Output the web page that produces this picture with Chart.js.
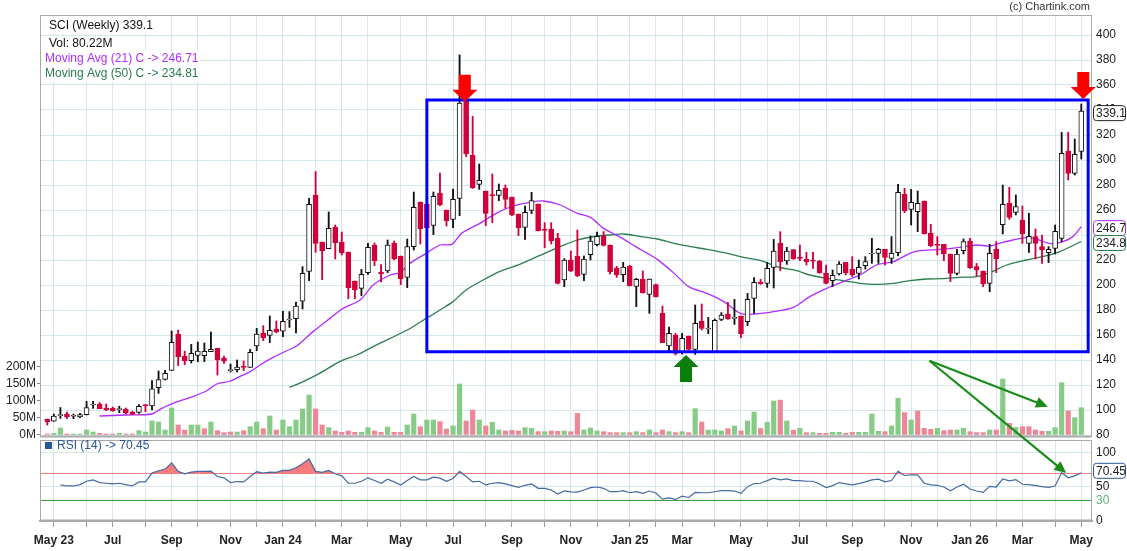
<!DOCTYPE html>
<html>
<head>
<meta charset="utf-8">
<title>SCI (Weekly)</title>
<script src="https://cdn.jsdelivr.net/npm/chart.js@4.4.1/dist/chart.umd.min.js"></script>
<style>
  html, body { margin: 0; padding: 0; background: #fff; }
  #wrap { position: relative; width: 1127px; height: 551px; }
  #wrap canvas { position: absolute; left: 0; top: 0; }
</style>
</head>
<body>
<div id="wrap">
  <canvas id="rsiChart" width="1127" height="551"></canvas>
  <canvas id="priceChart" width="1127" height="551"></canvas>
</div>
<script>
// Weekly candles, one per week (index 0 = last week of Apr 2023)
const opens = [
  92.5, 91, 95.5, 96.8, 95, 94.4, 96.3, 104, 104.5, 101.6,
  101.3, 100.3, 100.8, 98.4, 98.1, 104, 103.2, 117.9, 124.5, 131.7,
  160.8, 143.2, 139.5, 143.7, 143.5, 146.7, 149.3, 141.6, 131.5, 132.3,
  134.7, 134.1, 151.2, 161.6, 159.7, 164.8, 163, 172, 173, 187,
  210.9, 272, 234.4, 229, 246.4, 234.4, 226.4, 203.2, 197.3, 209.9,
  232, 210.4, 211.2, 233.6, 223.2, 206.1, 230.7, 266.4, 264.8, 247.7,
  273.6, 260, 252.5, 269.3, 348, 303.7, 280.5, 275.2, 272, 271.7,
  277.3, 270.4, 256.8, 246.1, 259.7, 264.8, 244.8, 244.5, 237.3, 204,
  220, 222.9, 208.5, 224.3, 232.3, 239.2, 232, 213.6, 208.3, 215.2,
  198.9, 204.8, 192.5, 200.3, 177.3, 151.2, 160, 146.1, 159.2, 148.5,
  171.2, 164.8, 146.7, 172.5, 176.8, 173.3, 175.2, 170.7, 189.3, 202.1,
  201.3, 214.1, 233.3, 219.2, 228.3, 222.4, 220.5, 219.5, 219.2, 209.3,
  203.5, 208.8, 218.1, 212.5, 209.3, 215.5, 224.8, 225.3, 228.5, 221.3,
  225.9, 272.8, 260.5, 258.7, 267.2, 241.3, 232.3, 232.5, 224.8, 209.3,
  227.5, 235.2, 214.7, 211.2, 201.3, 228.5, 248.3, 265.3, 258.1, 252,
  233.3, 238.7, 230.7, 225.9, 229.3, 237.3, 307.2, 289.3, 306.9
];
const highs = [
  92.8, 96.8, 102, 98.4, 96.8, 97.3, 107, 107, 106, 104.8,
  102.4, 103, 101.6, 99, 104.3, 104.3, 123.5, 131.2, 131.7, 163.2,
  164, 147, 152.5, 154.4, 153.6, 162.4, 149.3, 143.2, 136.8, 140,
  139.2, 148.5, 165.3, 167.5, 175.2, 171.2, 179, 178.7, 186.4, 214.7,
  269.3, 290.7, 234.4, 258.4, 248, 242.4, 226.4, 203.2, 212.5, 233.3,
  233.6, 216.3, 236, 235.2, 223.2, 236.8, 274.4, 266.4, 266, 274.4,
  289.6, 260, 276.8, 384, 350, 334.9, 296.8, 275.2, 288.8, 280.8,
  280, 270.4, 256.8, 263.2, 274.1, 264.8, 249.9, 249.9, 241.3, 221.1,
  227.2, 244, 223.2, 239.2, 242.4, 242.7, 232, 214.9, 218.1, 215.7,
  205.3, 211.2, 204.8, 200.8, 183.2, 166.4, 161.3, 161.3, 159.2, 184,
  184.8, 174.1, 172.8, 177.9, 186.1, 188.5, 175.2, 193.3, 205.9, 204.5,
  218.1, 236.5, 242.7, 230.1, 228.3, 232, 226.1, 226.1, 219.7, 216,
  212, 218.7, 218.1, 222.7, 220, 222.7, 237.3, 229.3, 228.5, 238.7,
  280.5, 277.3, 276.5, 275.2, 267.2, 248.5, 238.7, 232.5, 224.8, 228.5,
  236.8, 237.3, 217.3, 211.2, 232.5, 234.7, 280, 278.1, 272, 263.2,
  257.3, 244.8, 240, 230.7, 248, 322.1, 322.1, 316.8, 344.8
];
const lows = [
  88, 91, 93.3, 93, 93, 93.9, 96, 101.3, 101, 99.5,
  99, 97.9, 96.8, 96.5, 97.3, 98.7, 100, 113.3, 124, 131.7,
  135.5, 136.3, 137.6, 138.7, 138.7, 146.7, 128, 137.3, 130.4, 130.4,
  131.5, 134.1, 147.5, 155.5, 153.9, 161.6, 158.7, 166.1, 161.6, 180.8,
  203.5, 226.1, 204.3, 229, 220.8, 224, 189, 189, 191.5, 208.5,
  215.5, 202.4, 209.9, 220, 200.3, 197.9, 228, 232.8, 245, 240.3,
  263.5, 247.2, 245.9, 255.5, 302.7, 277.3, 276.5, 247.5, 249.9, 267.5,
  261.3, 255.5, 239.5, 236.5, 257.1, 243.2, 229.9, 232.8, 200.8, 198.7,
  210.7, 206.7, 203.5, 220, 231.2, 231.2, 208.8, 206.1, 202.7, 199.2,
  182.7, 193.6, 177.3, 190.4, 153.9, 147.2, 144, 144.8, 148, 144.5,
  164, 161, 146.7, 171.5, 172.5, 168.5, 157.9, 167.5, 177.3, 200.5,
  198.1, 197.6, 211.5, 216.5, 220.5, 219.5, 216, 213.3, 209.3, 200.8,
  198.7, 208, 208, 206.7, 204.8, 212.8, 217.3, 217.3, 216, 217.3,
  223.2, 257.9, 248, 242.7, 240.8, 230.7, 224, 219.5, 202.7, 208,
  224.8, 213.3, 207.2, 198.7, 194.7, 209.9, 240.8, 252.5, 256, 233.3,
  226.1, 220.8, 217.3, 217.9, 224.8, 234.7, 284, 288, 300.8
];
const closes = [
  90.4, 95.2, 96.3, 94.4, 95.2, 96.3, 102, 104.3, 101, 100,
  99.5, 100.6, 97.6, 96.5, 103, 103.5, 117, 124.3, 129.3, 154.1,
  142.7, 139.5, 145.3, 147.2, 147, 148.5, 140, 139, 131.7, 134.4,
  134.1, 146.1, 160.8, 157.9, 163.7, 162.4, 171, 172.8, 183.2, 209.3,
  264.5, 233.3, 227.5, 245.3, 233.9, 225.9, 197.9, 196.3, 208.5, 230.1,
  219.5, 209.1, 232, 221.1, 205.1, 230.7, 262.1, 245.1, 245.9, 270.9,
  264, 251.5, 268.5, 345.6, 304.8, 277.9, 283.7, 257.3, 271.5, 275.7,
  268.5, 256, 245.9, 258.1, 267.5, 243.5, 243.7, 235.5, 201.3, 220,
  211.2, 207.5, 220.8, 235.2, 238.9, 231.7, 210.7, 208.3, 214.4, 199.2,
  204.5, 193.6, 204.8, 190.4, 153.9, 161.3, 145.3, 157.3, 148.5, 169.3,
  165.3, 165.3, 171.7, 176, 172.8, 173.6, 161, 188.5, 202.1, 201.1,
  213.3, 227.2, 218.7, 227.2, 220.8, 221.3, 218.7, 219, 209.9, 201.3,
  207.7, 216.8, 209.9, 208, 214.1, 218.7, 225.3, 228.5, 222.1, 225.3,
  274.1, 259.5, 266.1, 265.3, 240.8, 231.5, 231.7, 224.8, 209.3, 224.8,
  234.7, 213.9, 212, 200.8, 225.3, 220.8, 264.5, 254.1, 262.7, 240.8,
  238.9, 233.3, 228, 228.5, 242.9, 305.3, 289.3, 304.5, 339.1
];
// Volume in millions
const volumes = [
  2.9, 4.9, 20.6, 2.9, 2.9, 2.9, 14.7, 8.8, 4.9, 2.9,
  2.9, 4.9, 2.9, 2.9, 12.7, 8.8, 41.2, 38.2, 14.7, 79.4,
  29.4, 14.7, 29.4, 29.4, 18.6, 38.2, 12.7, 6.9, 8.8, 8.8,
  12.7, 24.5, 38.2, 18.6, 55.9, 14.7, 44.1, 24.5, 44.1, 76.5,
  117.6, 76.5, 29.4, 21.6, 11.8, 7.8, 11.8, 7.8, 7.8, 21.6,
  11.8, 7.8, 23.5, 7.8, 7.8, 29.4, 61.8, 24.5, 44.1, 44.1,
  39.2, 17.6, 26.5, 150, 41.2, 73.5, 44.1, 26.5, 37.3, 14.7,
  11.8, 13.7, 11.8, 21.6, 19.6, 9.8, 9.8, 11.8, 10.8, 11.8,
  9.8, 63.7, 14.7, 20.6, 11.8, 9.8, 6.9, 6.9, 6.9, 6.9,
  9.8, 6.9, 14.7, 6.9, 14.7, 9.8, 6.9, 9.8, 6.9, 77.5,
  38.2, 14.7, 14.7, 11.8, 18.6, 26.5, 11.8, 41.2, 67.6, 19,
  37, 100, 102.5, 41.2, 14, 19.6, 6.9, 6.9, 4.9, 4.9,
  7.8, 7.8, 4.9, 7.8, 7.8, 7.8, 61.8, 10.8, 9.8, 26.5,
  107.8, 65.7, 44.1, 70.6, 19.6, 16.7, 19.6, 12.7, 14.7, 14.7,
  19.6, 9.8, 6.9, 6.9, 14.7, 14.7, 164.7, 34.3, 22.5, 24.5,
  24.5, 14.7, 10.8, 10.8, 21.6, 153.9, 70.6, 51, 80.22
];
const rsiValues = [
  null, null, 52.7, 51.2, 51.2, 53.2, 58.1, 60.1, 56.2, 55.2,
  54.2, 55.2, 53.2, 51.2, 57.2, 57.2, 70, 73.5, 75.9, 84.8,
  72.5, 69, 71.5, 72.5, 72.5, 73, 65.1, 63.1, 56.2, 57.7,
  57.2, 65.1, 72, 70, 71.5, 71, 74, 74, 77.9, 83.8,
  90.7, 72.5, 71, 74, 69, 66, 55.2, 55.2, 58.1, 63.1,
  59.1, 55.2, 61.1, 57.2, 52.7, 59.1, 65.1, 60.1, 60.1, 64.1,
  62.6, 58.1, 62.1, 72.5, 65.1, 57.2, 58.1, 52.7, 55.2, 56.2,
  54.2, 51.7, 49.3, 52.2, 54.2, 47.8, 47.8, 45.3, 39.4, 44,
  42.5, 42.3, 45.3, 48.8, 49.7, 47.8, 42.8, 42.8, 44.3, 41.3,
  42.8, 40.4, 43.8, 40.9, 32, 33.9, 31.5, 36.4, 34.4, 41.8,
  41.3, 41.3, 42.8, 44.3, 44.3, 43.8, 40.4, 50.2, 54.7, 55.2,
  59.1, 62.6, 60.1, 61.6, 59.1, 59.1, 58.1, 58.1, 54.2, 48.8,
  51.7, 56.2, 54.2, 52.7, 54.7, 57.2, 60.1, 61.1, 57.2, 59.1,
  72.5, 66.5, 67.5, 67.5, 55.2, 52.7, 52.2, 49.7, 44.3, 49.7,
  53.7, 46.8, 43.8, 41.8, 50.7, 49.7, 61.6, 58.6, 60.6, 53.7,
  53.2, 51.7, 50.2, 49.3, 51.2, 70.5, 63.1, 66, 70.45
];
// Moving averages (week index, value)
const ma21Weeks = [8, 12, 16, 17.2, 19.2, 21.8, 24.3, 25.9, 27.9, 29.4, 31, 32.5, 34.5, 36.5, 38.1, 40.6, 43.2, 45.2, 47.8, 49.8,
  52.4, 53.9, 55.4, 57.9, 60, 61.8, 63.3, 66.1, 68.6, 71.2, 73.7, 75.8, 78.4, 81, 83, 85, 87.6, 90.1, 91.7, 93.2,
  95.8, 98, 100.8, 103.4, 105.9, 108, 111, 114, 116.5, 119.1, 121.6, 124.2, 126.7, 129.3, 131.8, 133.3, 136.4, 139.4, 142, 144,
  145.5, 147.5, 149.6, 151.1, 153.1, 154.7, 156.7, 158];
const ma21Values = [95.2, 96, 96.8, 100.5, 105.3, 109.9, 115.2, 120.8, 123, 126.7, 130.7, 136, 142.1, 147.2, 151.2, 162.7, 173.3, 181.3, 188, 200,
  208, 209.9, 217.3, 225.3, 232, 232.5, 241.3, 249.3, 257.3, 263.2, 266.1, 267.2, 264, 257.3, 254.1, 245.3, 238.1, 230.1, 225.3, 220.5,
  209.3, 198.7, 193.3, 186.7, 177.3, 176.8, 178.7, 182.1, 190.7, 197.3, 202.7, 208, 216, 218.7, 225.3, 227.5, 228.5, 230.1, 232, 231.2,
  233.3, 236, 237.9, 236.8, 233.3, 233.9, 238.7, 246.71];
const ma50Weeks = [37, 39.1, 41.6, 44.7, 47.3, 49.8, 52.4, 55, 57.5, 60, 62, 64, 66.6, 69.1, 72.2, 75.2, 78.4, 81, 84, 86,
  88.1, 90.7, 93.2, 95.8, 98.3, 100.8, 103.9, 106.4, 109, 112, 114.5, 116.5, 119.1, 121.6, 124.2, 126.7, 129.3, 131.8, 134.3, 136.9,
  139.4, 142, 144, 146.6, 149.6, 152.7, 154.7, 158];
const ma50Values = [118.1, 122.7, 129.3, 138.7, 144, 150.7, 157.3, 164, 172, 180, 186.7, 196, 204, 210.7, 216.5, 223.5, 230.7, 236, 239.2, 240,
  240.8, 238.7, 236.8, 233.3, 230.7, 228.5, 225.3, 222.1, 219.5, 214, 211.5, 208, 205.3, 203.5, 201.3, 200.5, 201.3, 203.5, 204.8, 205.1,
  206.1, 206.7, 209.9, 216, 220, 223.5, 226.7, 234.81];

// Axis ticks
const monthWeeks = [1, 6, 10, 15, 19, 23, 28, 32, 36, 41, 45, 49, 54, 58, 62, 67, 71, 76, 80, 84, 89, 93, 97, 102, 106, 110, 115, 119, 123, 128, 132, 136, 141, 145, 149, 154, 158];
const monthLabels = ['May 23', '', 'Jul', '', 'Sep', '', 'Nov', '', 'Jan 24', '', 'Mar', '', 'May', '', 'Jul', '', 'Sep', '', 'Nov', '',
  'Jan 25', '', 'Mar', '', 'May', '', 'Jul', '', 'Sep', '', 'Nov', '', 'Jan 26', '', 'Mar', '', 'May'];
const priceTicks = [80, 100, 120, 140, 160, 180, 200, 220, 240, 260, 280, 300, 320, 340, 360, 380, 400];
const volTicks = [0, 50, 100, 150, 200];
const rsiTicks = [0, 30, 50, 70, 100];

// Drawn annotations, in week / value units
const boxWeeks = [58.0, 159.05];
const boxPrices = [146.6, 348];
const redArrowWeeks = [63.8, 158.3];
const redArrowPrices = [346.6, 348.8];
const greenArrowWeek = 97.6;
const greenArrowPrice = 144;
const trendStart = [134.8, 139.4];
const trendEndPrice = [152.9, 102.6];
const trendEndRsi = [155.7, 70];

// Styles
const FONT = '"Liberation Sans", Arial, Helvetica, sans-serif';
const GRID = '#d5e7ed';
const BORDER = '#aaaaaa';
const DOWN = '#d1003a';
const VOL_UP = '#86cb86';
const VOL_DOWN = '#ec8797';
const MA21_COL = '#b02cff';
const MA50_COL = '#2b7d4e';
const RSI_COL = '#4469a3';
const X_MIN = -1.1155;
const X_MAX = 159.636;

Chart.defaults.font.family = FONT;
Chart.defaults.font.size = 12;
Chart.defaults.color = '#222';
Chart.defaults.animation = false;

const idx = closes.map((c, i) => i);
const isUp = idx.map(i => closes[i] >= opens[i]);

function setTicks(values) {
    return scale => { scale.ticks = values.map(v => ({ value: v })); };
}

function valueBox(ctx, text, left, cy, border) {
    ctx.font = '12px ' + FONT;
    ctx.beginPath();
    ctx.roundRect(left, cy - 7.5, 32, 15, 3);
    ctx.fillStyle = '#fff';
    ctx.fill();
    ctx.strokeStyle = border;
    ctx.lineWidth = 1;
    ctx.stroke();
    ctx.fillStyle = '#222';
    ctx.textAlign = 'left';
    ctx.textBaseline = 'middle';
    ctx.fillText(text, left + 2.5, cy + 0.5);
}

function panelBorder(ctx, a) {
    ctx.strokeStyle = BORDER;
    ctx.lineWidth = 1;
    ctx.strokeRect(a.left + 0.5, a.top + 0.5, a.right - a.left - 1, a.bottom - a.top - 1);
    ctx.fillStyle = BORDER;
    ctx.fillRect(a.left, a.bottom - 1.5, a.right - a.left, 2);
}

function blockArrow(ctx, cx, tipY, dir, color) {
    // dir = 1 points down, -1 points up
    ctx.fillStyle = color;
    ctx.beginPath();
    ctx.moveTo(cx, tipY);
    ctx.lineTo(cx + 12.5, tipY - dir * 12);
    ctx.lineTo(cx + 6, tipY - dir * 12);
    ctx.lineTo(cx + 6, tipY - dir * 27);
    ctx.lineTo(cx - 6, tipY - dir * 27);
    ctx.lineTo(cx - 6, tipY - dir * 12);
    ctx.lineTo(cx - 12.5, tipY - dir * 12);
    ctx.closePath();
    ctx.fill();
}

function lineArrow(ctx, x0, y0, x1, y1, color) {
    const ang = Math.atan2(y1 - y0, x1 - x0);
    const c = Math.cos(ang), s = Math.sin(ang);
    const L = 12, W = 5.5;
    ctx.strokeStyle = color;
    ctx.lineWidth = 2.2;
    ctx.beginPath();
    ctx.moveTo(x0, y0);
    ctx.lineTo(x1 - L * c * 0.7, y1 - L * s * 0.7);
    ctx.stroke();
    ctx.fillStyle = color;
    ctx.beginPath();
    ctx.moveTo(x1, y1);
    ctx.lineTo(x1 - L * c + W * s, y1 - L * s - W * c);
    ctx.lineTo(x1 - L * c - W * s, y1 - L * s + W * c);
    ctx.closePath();
    ctx.fill();
}

function labelLine(ctx, text, x, y, color) {
    const w = ctx.measureText(text).width;
    ctx.fillStyle = '#fff';
    ctx.fillRect(x - 2, y - 8, w + 4, 16);
    ctx.fillStyle = color;
    ctx.fillText(text, x, y);
}

// ---------- RSI panel (drawn first, underneath) ----------
const rsiOverlay = {
    id: 'rsiOverlay',
    afterDraw(chart) {
        const { ctx, chartArea: a, scales } = chart;
        ctx.save();
        panelBorder(ctx, a);
        ctx.fillStyle = '#2b5797';
        ctx.fillRect(45, 442, 7, 7);
        ctx.font = '12px ' + FONT;
        ctx.textAlign = 'left';
        ctx.textBaseline = 'middle';
        ctx.fillText('RSI (14) -> 70.45', 57, 446);
        const last = rsiValues[rsiValues.length - 1];
        valueBox(ctx, '70.45', a.right + 1.5, scales.y.getPixelForValue(last) - 2, '#2b5797');
        ctx.restore();
    }
};

const rsiChart = new Chart(document.getElementById('rsiChart'), {
    type: 'line',
    data: {
        datasets: [{
            label: 'RSI (14)',
            data: idx.map(i => ({ x: i, y: rsiValues[i] })),
            borderColor: RSI_COL,
            borderWidth: 1.2,
            pointRadius: 0,
            tension: 0,
            fill: { target: { value: 70 }, above: '#f77b7b', below: 'rgba(0,0,0,0)' }
        }]
    },
    options: {
        responsive: false,
        layout: { padding: { left: 40, right: 0, top: 440, bottom: 0 } },
        plugins: { legend: { display: false }, tooltip: { enabled: false } },
        scales: {
            x: {
                type: 'linear', min: X_MIN, max: X_MAX, offset: false,
                afterBuildTicks: setTicks(monthWeeks),
                afterFit: s => { s.height = 30; },
                ticks: {
                    autoSkip: false, maxRotation: 0, padding: 6,
                    font: { weight: 'bold', size: 12 }, color: '#222',
                    callback: v => monthLabels[monthWeeks.indexOf(v)]
                },
                grid: { color: GRID, tickLength: 6, tickColor: '#999' },
                border: { color: BORDER, width: 2 }
            },
            y: {
                position: 'right', min: 0, max: 118.4,
                afterBuildTicks: setTicks(rsiTicks),
                afterFit: s => { s.width = 35; },
                ticks: {
                    padding: 4,
                    color: ctx => ctx.tick.value === 30 ? '#5fae6e' : '#222',
                    callback: v => v === 70 ? '' : v
                },
                grid: {
                    drawTicks: false,
                    color: ctx => ctx.tick.value === 70 ? '#f08080' : ctx.tick.value === 30 ? '#3c9b3c' : ctx.tick.value === 0 ? 'rgba(0,0,0,0)' : GRID
                },
                border: { display: false }
            }
        }
    },
    plugins: [rsiOverlay]
});

// ---------- Price + volume panel ----------
const mainOverlay = {
    id: 'mainOverlay',
    afterDraw(chart) {
        const { ctx, chartArea: a, scales } = chart;
        const x = scales.x, y = scales.y;
        ctx.save();
        panelBorder(ctx, a);

        // header texts
        ctx.font = '12px ' + FONT;
        ctx.textAlign = 'left';
        ctx.textBaseline = 'middle';
        labelLine(ctx, 'SCI (Weekly) ' + closes[closes.length - 1], 49, 26, '#111');
        labelLine(ctx, 'Vol: ' + volumes[volumes.length - 1] + 'M', 49, 44, '#111');
        labelLine(ctx, 'Moving Avg (21) C -> 246.71', 45, 59, MA21_COL);
        labelLine(ctx, 'Moving Avg (50) C -> 234.81', 45, 74, MA50_COL);
        ctx.font = '11px ' + FONT;
        ctx.textAlign = 'right';
        ctx.fillStyle = '#333';
        ctx.fillText('(c) Chartink.com', 1090, 7);

        // blue box
        const bx0 = x.getPixelForValue(boxWeeks[0]), bx1 = x.getPixelForValue(boxWeeks[1]);
        const by0 = y.getPixelForValue(boxPrices[1]), by1 = y.getPixelForValue(boxPrices[0]);
        ctx.strokeStyle = '#0000ff';
        ctx.lineWidth = 3;
        ctx.strokeRect(bx0, by0, bx1 - bx0, by1 - by0);

        // arrows
        redArrowWeeks.forEach((w, k) => {
            blockArrow(ctx, x.getPixelForValue(w), y.getPixelForValue(redArrowPrices[k]), 1, '#ff0000');
        });
        blockArrow(ctx, x.getPixelForValue(greenArrowWeek), y.getPixelForValue(greenArrowPrice), -1, '#0a7d0a');

        const sx = x.getPixelForValue(trendStart[0]), sy = y.getPixelForValue(trendStart[1]);
        lineArrow(ctx, sx, sy, x.getPixelForValue(trendEndPrice[0]), y.getPixelForValue(trendEndPrice[1]), '#1a8c1a');
        lineArrow(ctx, sx, sy, rsiChart.scales.x.getPixelForValue(trendEndRsi[0]), rsiChart.scales.y.getPixelForValue(trendEndRsi[1]), '#1a8c1a');

        // last value boxes on the price axis
        valueBox(ctx, String(closes[closes.length - 1]), a.right + 1.5, y.getPixelForValue(closes[closes.length - 1]) + 2, '#222');
        valueBox(ctx, '246.7', a.right + 1.5, y.getPixelForValue(246.71) + 1.5, MA21_COL);
        valueBox(ctx, '234.8', a.right + 1.5, y.getPixelForValue(234.81) + 1.5, MA50_COL);
        ctx.restore();
    }
};

new Chart(document.getElementById('priceChart'), {
    type: 'bar',
    data: {
        datasets: [
            {
                type: 'line', label: 'MA 21', order: 3,
                data: ma21Weeks.map((w, k) => ({ x: w, y: ma21Values[k] })),
                borderColor: MA21_COL, borderWidth: 1.3, pointRadius: 0, tension: 0.3
            },
            {
                type: 'line', label: 'MA 50', order: 3,
                data: ma50Weeks.map((w, k) => ({ x: w, y: ma50Values[k] })),
                borderColor: MA50_COL, borderWidth: 1.3, pointRadius: 0, tension: 0.3
            },
            {
                label: 'Wick', order: 2,
                data: idx.map(i => ({ x: i, y: [lows[i], highs[i]] })),
                backgroundColor: idx.map(i => isUp[i] ? '#111' : DOWN),
                barThickness: 1.2
            },
            {
                label: 'Body', order: 1,
                data: idx.map(i => ({ x: i, y: [opens[i], closes[i]] })),
                backgroundColor: idx.map(i => isUp[i] ? '#fff' : DOWN),
                borderColor: idx.map(i => isUp[i] ? '#111' : DOWN),
                borderWidth: 1, borderSkipped: false, minBarLength: 1,
                barThickness: 5
            },
            {
                label: 'Volume', order: 4, yAxisID: 'yVol',
                data: idx.map(i => ({ x: i, y: volumes[i] })),
                backgroundColor: idx.map(i => (i > 0 && closes[i] >= closes[i - 1]) ? VOL_UP : VOL_DOWN),
                barThickness: 4.5
            }
        ]
    },
    options: {
        responsive: false,
        layout: { padding: { left: 0, right: 0, top: 15, bottom: 114 } },
        plugins: { legend: { display: false }, tooltip: { enabled: false } },
        datasets: { bar: { grouped: false } },
        scales: {
            x: {
                type: 'linear', min: X_MIN, max: X_MAX, offset: false,
                afterBuildTicks: setTicks(monthWeeks),
                afterFit: s => { s.height = 0; },
                ticks: { display: false },
                grid: { color: GRID, drawTicks: false, offset: false },
                border: { display: false }
            },
            y: {
                position: 'right', min: 78.4, max: 416,
                afterBuildTicks: setTicks(priceTicks),
                afterFit: s => { s.width = 35; },
                ticks: { padding: 4, autoSkip: false },
                grid: { color: GRID, drawTicks: false },
                border: { display: false }
            },
            yVol: {
                position: 'left', min: -5.9, max: 1235,
                afterBuildTicks: setTicks(volTicks),
                afterFit: s => { s.width = 40; },
                ticks: { padding: 1, autoSkip: false, callback: v => v + 'M' },
                grid: { drawOnChartArea: false, tickLength: 3, color: '#888' },
                border: { display: false }
            }
        }
    },
    plugins: [mainOverlay]
});
</script>
</body>
</html>
